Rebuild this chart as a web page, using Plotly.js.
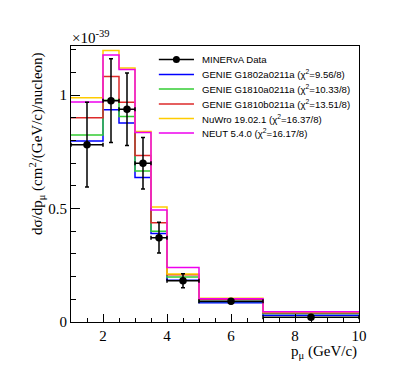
<!DOCTYPE html>
<html>
<head>
<meta charset="utf-8">
<script src="https://cdn.plot.ly/plotly-3.0.1.min.js"></script>
<style>html,body{margin:0;padding:0;background:#fff;}#plot{width:399px;height:379px;}</style>
</head>
<body>
<div id="plot"></div>
<script>
// Bin edges (GeV/c) and data
const binEdges = [1, 2, 2.5, 3, 3.5, 4, 5, 7, 10];
const dataCenters = [1.5, 2.25, 2.75, 3.25, 3.75, 4.5, 6, 8.5];
const dataValues = [0.782, 0.976, 0.938, 0.700, 0.372, 0.182, 0.091, 0.021];
const dataErrors = [0.187, 0.185, 0.160, 0.113, 0.068, 0.031, 0.009, 0.004];

const genieG1802a = [0.798, 0.936, 0.877, 0.637, 0.390, 0.184, 0.085, 0.030];
const genieG1810a = [0.825, 0.978, 0.906, 0.666, 0.400, 0.198, 0.090, 0.037];
const genieG1810b = [0.901, 1.083, 0.969, 0.734, 0.438, 0.208, 0.100, 0.041];
const nuwro = [0.989, 1.197, 1.120, 0.840, 0.507, 0.212, 0.105, 0.044];
const neut = [0.970, 1.177, 1.113, 0.836, 0.494, 0.240, 0.103, 0.045];

const modelNames = [
  "GENIE G1802a0211a (χ<sup>2</sup>=9.56/8)",
  "GENIE G1810a0211a (χ<sup>2</sup>=10.33/8)",
  "GENIE G1810b0211a (χ<sup>2</sup>=13.51/8)",
  "NuWro 19.02.1 (χ<sup>2</sup>=16.37/8)",
  "NEUT 5.4.0 (χ<sup>2</sup>=16.17/8)"
];
const modelValues = [genieG1802a, genieG1810a, genieG1810b, nuwro, neut];
const modelColors = ["#0000ff", "#33cc33", "#dd2a2a", "#ffcc00", "#ee00ee"];

const traces = [];
modelValues.forEach((vals, i) => {
  traces.push({
    type: "scatter", mode: "lines",
    x: binEdges,
    y: vals.concat([vals[vals.length - 1]]),
    line: {shape: "hv", color: modelColors[i], width: 1.5},
    showlegend: false, hoverinfo: "skip"
  });
});
const halfWidths = dataCenters.map((c, i) => (binEdges[i + 1] - binEdges[i]) / 2);
traces.push({
  type: "scatter", mode: "markers",
  x: dataCenters, y: dataValues,
  marker: {color: "#000", size: 7.5},
  error_y: {type: "data", array: dataErrors, visible: true, color: "#000", thickness: 1.5, width: 2},
  error_x: {type: "data", array: halfWidths, visible: true, color: "#000", thickness: 1.5, width: 2},
  showlegend: false
});

// manual legend (paper coordinates)
const shapes = [];
const annotations = [];
const legX0 = 0.305, legX1 = 0.427, legTx = 0.448;
const legY = [0.951, 0.897, 0.844, 0.790, 0.737, 0.685];
const legLabels = ["MINERvA Data"].concat(modelNames);
const legColors = ["#000"].concat(modelColors);
legLabels.forEach((lab, i) => {
  shapes.push({type: "line", xref: "paper", yref: "paper", x0: legX0, x1: legX1, y0: legY[i], y1: legY[i],
    line: {color: legColors[i], width: 1.5}});
  annotations.push({xref: "paper", yref: "paper", x: legTx, y: legY[i], xanchor: "left", yanchor: "middle",
    text: lab, showarrow: false, font: {family: "Liberation Sans, Arial, sans-serif", size: 9.6, color: "#000"}});
});
const cx = (legX0 + legX1) / 2;
shapes.push({type: "circle", xref: "paper", yref: "paper", x0: cx - 0.0122, x1: cx + 0.0122,
  y0: legY[0] - 0.0127, y1: legY[0] + 0.0127, fillcolor: "#000", line: {color: "#000", width: 0}});

const serif = "Liberation Serif, Times New Roman, serif";
annotations.push({xref: "paper", yref: "paper", x: 1, y: -0.11, xanchor: "right", yanchor: "middle",
  text: "p<sub>μ</sub> (GeV/c)", showarrow: false, font: {family: serif, size: 15, color: "#000"}});
annotations.push({xref: "paper", yref: "paper", x: -0.12, y: 0.985, xanchor: "center", yanchor: "top",
  textangle: -90, text: "dσ/dp<sub>μ</sub> (cm<sup>2</sup>/(GeV/c)/nucleon)", showarrow: false,
  font: {family: serif, size: 15, color: "#000"}});
annotations.push({xref: "paper", yref: "paper", x: -0.003, y: 1.0, xanchor: "left", yanchor: "bottom",
  yshift: -2, text: "×10<sup>-39</sup>", showarrow: false, font: {family: serif, size: 15, color: "#000"}});

const layout = {
  width: 399, height: 379,
  margin: {l: 71, r: 40, t: 46, b: 57},
  paper_bgcolor: "#fff", plot_bgcolor: "#fff",
  showlegend: false,
  xaxis: {
    range: [1, 10], tickvals: [2, 4, 6, 8, 10], ticktext: ["2", "4", "6", "8", "10"],
    ticks: "inside", ticklen: 8, tickwidth: 1, tickcolor: "#000",
    minor: {dtick: 0.5, tick0: 0, ticks: "inside", ticklen: 4, tickcolor: "#000", showgrid: false},
    showline: true, linecolor: "#000", linewidth: 1, mirror: true,
    showgrid: false, zeroline: false,
    tickfont: {family: serif, size: 15, color: "#000"}
  },
  yaxis: {
    range: [0, 1.217], tickvals: [0, 0.5, 1], ticktext: ["0", "0.5", "1"],
    ticks: "inside", ticklen: 9, tickwidth: 1, tickcolor: "#000",
    minor: {dtick: 0.1, tick0: 0, ticks: "inside", ticklen: 5, tickcolor: "#000", showgrid: false},
    showline: true, linecolor: "#000", linewidth: 1, mirror: true,
    showgrid: false, zeroline: false,
    tickfont: {family: serif, size: 15, color: "#000"}
  },
  shapes: shapes,
  annotations: annotations
};

Plotly.newPlot("plot", traces, layout, {displayModeBar: false, staticPlot: true});
</script>
</body>
</html>
